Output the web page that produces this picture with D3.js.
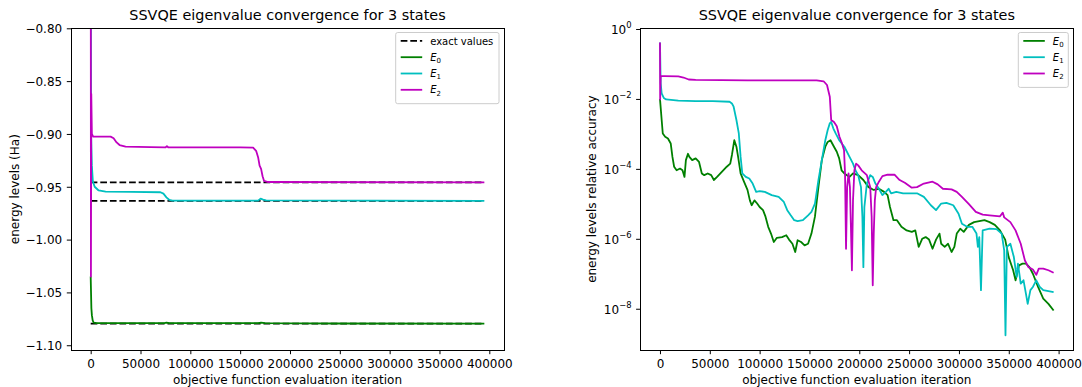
<!DOCTYPE html>
<html>
<head>
<meta charset="utf-8">
<script src="https://cdn.jsdelivr.net/npm/d3@7"></script>
<style>
  body { margin: 0; background: #fff; }
  svg { display: block; font-family: 'DejaVu Sans', sans-serif; }
</style>
</head>
<body>
<svg id="chart" width="1082" height="387"></svg>
<script>
// ---- data ----
const title = 'SSVQE eigenvalue convergence for 3 states';
const xLabel = 'objective function evaluation iteration';
const leftYLabel = 'energy levels (Ha)';
const rightYLabel = 'energy levels relative accuracy';

const xTicks = [0, 50000, 100000, 150000, 200000, 250000, 300000, 350000, 400000];
const energyTicks = [-1.10, -1.05, -1.00, -0.95, -0.90, -0.85, -0.80];
const accuracyTicks = [1, 1e-2, 1e-4, 1e-6, 1e-8];
const accuracyTickExponents = ['0', '\u22122', '\u22124', '\u22126', '\u22128'];

const lastIteration = 395000;
const exactValues = [-1.0795, -0.9633, -0.9458];
const stateNames = ['0', '1', '2'];
const stateColors = ['#008000', '#00bfbf', '#bf00bf'];

// left panel: energies (Ha) vs iteration
const energyE0 = [[0, -1.035], [700, -1.065], [1200, -1.0715], [2000, -1.0765], [3000, -1.0785], [6000, -1.0791],
  [40000, -1.0791], [74000, -1.0790], [76000, -1.0786], [79000, -1.0791], [168000, -1.0791], [171000, -1.0786],
  [175000, -1.0791], [250000, -1.0794], [395000, -1.0795]];
const energyE1 = [[0, -0.58], [400, -0.90], [1200, -0.930], [2200, -0.945], [4000, -0.950], [8000, -0.9535],
  [15000, -0.9546], [40000, -0.9548], [70000, -0.9552], [73000, -0.9565], [76000, -0.9600], [79000, -0.9625],
  [82000, -0.9632], [168000, -0.9631], [170500, -0.9612], [173000, -0.9622], [176000, -0.9629], [395000, -0.9633]];
const energyE2 = [[0, -0.55], [250, -1.035], [600, -0.862], [1200, -0.900], [2500, -0.9025], [20000, -0.9025],
  [23000, -0.904], [26000, -0.908], [29000, -0.9105], [35000, -0.912], [60000, -0.9125], [75000, -0.9128],
  [76500, -0.9115], [78000, -0.9128], [150000, -0.9128], [163000, -0.9130], [166000, -0.916], [168000, -0.922],
  [169500, -0.930], [171000, -0.933], [172500, -0.940], [174000, -0.9445], [178000, -0.9455], [395000, -0.9458]];

// right panel: relative accuracy vs iteration
const accuracyE0 = [[0, 1.0e-2], [1700, 2.5e-3], [2800, 1.03e-3], [5200, 8.3e-4], [8000, 7.4e-4], [10800, 5.3e-4],
  [12500, 2.2e-4], [14200, 1.15e-4], [16700, 9.1e-5], [20100, 1.02e-4], [22600, 9.1e-5], [24600, 5.9e-5],
  [26000, 1.78e-4], [28100, 2.7e-4], [29500, 2.2e-4], [32300, 1.78e-4], [35800, 2.0e-4], [39200, 1.58e-4],
  [42000, 7.4e-5], [44400, 6.6e-5], [47900, 7.4e-5], [51400, 6.6e-5], [54100, 4.8e-5], [57300, 5.9e-5],
  [61800, 8.1e-5], [67000, 1.15e-4], [70500, 1.41e-4], [72200, 2.5e-4], [74600, 6.6e-4], [76700, 4.3e-4],
  [78400, 2.2e-4], [80900, 7.4e-5], [84300, 4.3e-5], [87800, 2.5e-5], [90200, 1.26e-5], [92000, 9.1e-6],
  [94800, 1.26e-5], [97500, 1.02e-5], [100000, 8.1e-6], [103400, 6.6e-6], [105900, 4.3e-6], [108600, 2.2e-6],
  [111400, 1.41e-6], [114200, 8.1e-7], [117300, 1.07e-6], [122500, 1.12e-6], [126700, 1.26e-6], [129500, 9.5e-7],
  [132900, 7.2e-7], [135700, 4.2e-7], [138100, 9.1e-7], [141600, 8.1e-7], [145100, 6.5e-7], [148600, 7.2e-7],
  [152000, 1.41e-6], [155500, 4.3e-6], [159000, 3.0e-5], [162400, 1.78e-4], [165900, 4.3e-4], [168300, 5.9e-4],
  [171100, 6.6e-4], [174600, 4.3e-4], [177400, 3.1e-4], [179800, 2.0e-4], [182200, 9.1e-5], [185000, 7.4e-5],
  [190200, 5.9e-5], [193700, 7.4e-5], [198900, 6.6e-5], [204100, 4.8e-5], [209300, 3.0e-5], [214500, 2.5e-5],
  [219700, 2.7e-5], [224900, 2.2e-5], [228400, 1.78e-5], [230800, 8.1e-6], [234300, 3.4e-6], [237800, 3.4e-6],
  [242300, 2.2e-6], [247500, 1.74e-6], [252700, 1.58e-6], [256200, 1.74e-6], [259600, 5.9e-7], [263100, 1.0e-6],
  [266600, 1.12e-6], [270000, 9.5e-7], [273500, 5.2e-7], [277000, 9.5e-7], [280500, 1.41e-6], [282200, 7.2e-7],
  [285700, 5.9e-7], [289100, 7.2e-7], [292600, 4.2e-7], [295400, 5.9e-7], [297800, 1.41e-6], [301300, 1.95e-6],
  [304800, 1.58e-6], [310000, 2.5e-6], [315200, 3.0e-6], [320400, 3.2e-6], [325600, 3.4e-6], [330800, 3.0e-6],
  [336000, 2.5e-6], [341200, 1.74e-6], [346400, 9.5e-7], [349900, 3.0e-7], [354400, 1.26e-7], [356800, 6.5e-8],
  [360300, 1.74e-7], [363800, 1.95e-7], [367200, 1.95e-7], [370700, 1.55e-7], [374200, 1.0e-7], [379400, 4.2e-8],
  [384600, 1.95e-8], [389800, 1.38e-8], [395000, 8.9e-9]];
const accuracyE1 = [[0, 0.41], [700, 2.8e-2], [1700, 1.45e-2], [3800, 1.07e-2], [6200, 9.7e-3], [18400, 8.9e-3],
  [35800, 8.7e-3], [53100, 8.7e-3], [69800, 8.3e-3], [72200, 7.4e-3], [73900, 6.0e-3], [76700, 2.5e-3],
  [79100, 1.03e-3], [80900, 2.2e-4], [82600, 7.4e-5], [86100, 5.9e-5], [89600, 5.3e-5], [93000, 3.8e-5],
  [96500, 2.2e-5], [100000, 2.3e-5], [105200, 2.2e-5], [112100, 1.78e-5], [119100, 1.58e-5], [124300, 1.13e-5],
  [127700, 6.6e-6], [131200, 4.7e-6], [134700, 3.4e-6], [138100, 3.2e-6], [143400, 3.4e-6], [148600, 4.7e-6],
  [152000, 5.9e-6], [155500, 1.02e-5], [159000, 4.8e-5], [162400, 1.78e-4], [165900, 6.6e-4], [168300, 1.29e-3],
  [170400, 2.0e-3], [171800, 2.2e-3], [173900, 1.45e-3], [176300, 1.03e-3], [179800, 6.6e-4], [185000, 4.3e-4],
  [190200, 2.2e-4], [193700, 1.41e-4], [196100, 9.1e-5], [198900, 6.6e-5], [201700, 3.0e-5], [203100, 4.3e-6],
  [204100, 1.55e-7], [205100, 8.1e-6], [207600, 3.8e-5], [211000, 6.6e-5], [213500, 5.9e-5], [216200, 3.8e-5],
  [219700, 2.7e-5], [223200, 1.78e-5], [226700, 2.2e-5], [229400, 2.7e-5], [231900, 2.0e-5], [237100, 2.2e-5],
  [244000, 2.0e-5], [251000, 2.0e-5], [257900, 2.0e-5], [264800, 1.58e-5], [271800, 9.1e-6], [277000, 6.6e-6],
  [282200, 1.02e-5], [287400, 1.07e-5], [294300, 9.1e-6], [299600, 5.2e-6], [303000, 2.7e-6], [308200, 2.2e-6],
  [313400, 2.2e-6], [317600, 1.41e-6], [319000, 5.9e-7], [320400, 1.12e-6], [322100, 3.4e-8], [323800, 1.74e-6],
  [330800, 1.95e-6], [337700, 1.9e-6], [342900, 1.41e-6], [345400, 4.7e-7], [346700, 1.74e-9], [348100, 5.9e-7],
  [351600, 7.2e-7], [355100, 3.0e-7], [357900, 8.1e-8], [359200, 1.95e-7], [362000, 5.2e-8], [364800, 6.5e-8],
  [367200, 2.7e-8], [369000, 1.38e-8], [371700, 3.4e-8], [374200, 4.2e-8], [377600, 6.5e-8], [381100, 4.2e-8],
  [384600, 3.4e-8], [389800, 3.2e-8], [395000, 3.0e-8]];
const accuracyE2 = [[0, 0.41], [170, 9.7e-3], [700, 4.5e-2], [4500, 4.5e-2], [18400, 4.4e-2], [23600, 4.1e-2],
  [28800, 3.6e-2], [35800, 3.5e-2], [87800, 3.4e-2], [122500, 3.4e-2], [157200, 3.4e-2], [164200, 3.2e-2],
  [167600, 2.5e-2], [170400, 1.15e-2], [171800, 2.5e-3], [174600, 2.2e-3], [177400, 1.66e-3], [180100, 8.3e-4],
  [182900, 5.1e-4], [184700, 3.4e-4], [185700, 7.4e-5], [186700, 5.2e-7], [187800, 3.0e-5], [189200, 7.4e-5],
  [190600, 3.0e-5], [191600, 2.2e-6], [192600, 1.26e-7], [193700, 1.26e-5], [195100, 9.1e-5], [196800, 1.41e-4],
  [198900, 1.26e-4], [202400, 9.1e-5], [207600, 6.6e-5], [211000, 3.0e-5], [212400, 4.3e-6], [213500, 4.7e-8],
  [214500, 1.41e-6], [215600, 1.26e-5], [216900, 3.0e-5], [219700, 4.3e-5], [223200, 6.2e-5], [228400, 6.8e-5],
  [235300, 6.8e-5], [240500, 4.8e-5], [245700, 4.0e-5], [252700, 2.9e-5], [257900, 3.0e-5], [264800, 3.8e-5],
  [273500, 4.3e-5], [278700, 3.6e-5], [283900, 2.7e-5], [292600, 2.6e-5], [297800, 2.2e-5], [303000, 1.58e-5],
  [310000, 9.8e-6], [316900, 5.9e-6], [323800, 4.9e-6], [330800, 4.7e-6], [341200, 4.4e-6], [344000, 5.6e-6],
  [345400, 4.1e-6], [351600, 3.0e-6], [356800, 1.74e-6], [362000, 7.2e-7], [366200, 2.4e-7], [369700, 1.55e-7],
  [374200, 1.32e-7], [377600, 9.3e-8], [380100, 1.41e-7], [384600, 1.41e-7], [389800, 1.26e-7], [395000, 1.07e-7]];

const energySeries = [energyE0, energyE1, energyE2];
const accuracySeries = [accuracyE0, accuracyE1, accuracyE2];

// ---- layout ----
const plotTop = 28.3;
const plotBottom = 350;
const lineWidth = 1.8;
const svg = d3.select('#chart');

const xScale = (x0, x1) => d3.scaleLinear()
  .domain([-0.05 * lastIteration, 1.05 * lastIteration])
  .range([x0, x1]);

const xLeft = xScale(71, 504);
const xRight = xScale(640.3, 1073.3);
const yEnergy = d3.scaleLinear().domain([-1.1045, -0.8]).range([plotBottom, plotTop]);
const yAccuracy = d3.scaleLog().domain([Math.pow(10, -9.18), Math.pow(10, 0.02)]).range([plotBottom, plotTop]);

const mathLabel = (sel, base, sub, size) => {
  sel.append('tspan').attr('font-style', 'italic').text(base);
  sel.append('tspan').attr('font-size', size * 0.7).attr('dy', size * 0.22).text(sub);
};

const panel = (id, x, y, series, yTickValues, yFormat, ylabel, ylabelX, legendBox, withExact) => {
  const [x0, x1] = x.range();
  const g = svg.append('g');

  svg.append('clipPath').attr('id', `clip-${id}`)
    .append('rect')
    .attr('x', x0).attr('y', plotTop)
    .attr('width', x1 - x0).attr('height', plotBottom - plotTop);

  const plot = g.append('g').attr('clip-path', `url(#clip-${id})`);
  const line = d3.line().x(d => x(d[0])).y(d => y(d[1]));

  if (withExact) {
    plot.selectAll('.exact')
      .data(exactValues)
      .join('path')
      .attr('class', 'exact')
      .attr('d', v => line([[0, v], [lastIteration, v]]))
      .attr('fill', 'none')
      .attr('stroke', '#000')
      .attr('stroke-width', lineWidth)
      .attr('stroke-dasharray', '6.7,2.9');
  }

  plot.selectAll('.state')
    .data(series)
    .join('path')
    .attr('class', 'state')
    .attr('d', line)
    .attr('fill', 'none')
    .attr('stroke', (d, i) => stateColors[i])
    .attr('stroke-width', lineWidth)
    .attr('stroke-linejoin', 'round');

  // axes
  const xAxis = g.append('g')
    .attr('transform', `translate(0,${plotBottom})`)
    .call(d3.axisBottom(x).tickValues(xTicks).tickSize(4.2).tickPadding(5.6).tickFormat(d3.format('d')));
  xAxis.select('.domain').remove();
  xAxis.selectAll('text').attr('font-size', 12).attr('font-family', 'DejaVu Sans').attr('fill', '#000');
  xAxis.selectAll('line').attr('stroke', '#000').attr('stroke-width', 1);

  const yAxis = g.append('g')
    .attr('transform', `translate(${x0},0)`)
    .call(d3.axisLeft(y).tickValues(yTickValues).tickSize(4.2).tickPadding(4.6).tickFormat(() => ''));
  yAxis.select('.domain').remove();
  yAxis.selectAll('line').attr('stroke', '#000').attr('stroke-width', 1);
  yAxis.selectAll('.tick text')
    .attr('font-size', 12).attr('font-family', 'DejaVu Sans').attr('fill', '#000')
    .each(function (d, i) { yFormat(d3.select(this), d, i); });

  g.append('rect')
    .attr('x', x0).attr('y', plotTop)
    .attr('width', x1 - x0).attr('height', plotBottom - plotTop)
    .attr('fill', 'none').attr('stroke', '#000').attr('stroke-width', 1)
    .attr('shape-rendering', 'crispEdges');

  g.append('text')
    .attr('x', (x0 + x1) / 2).attr('y', 20)
    .attr('text-anchor', 'middle')
    .attr('font-size', 14.4)
    .text(title);

  g.append('text')
    .attr('x', (x0 + x1) / 2).attr('y', 383.5)
    .attr('text-anchor', 'middle')
    .attr('font-size', 12)
    .text(xLabel);

  g.append('text')
    .attr('transform', `translate(${ylabelX},${(plotTop + plotBottom) / 2}) rotate(-90)`)
    .attr('text-anchor', 'middle')
    .attr('font-size', 12)
    .text(ylabel);

  // legend
  const entries = (withExact ? [{ dash: true }] : []).concat(stateNames.map((s, i) => ({ sub: s, color: stateColors[i] })));
  const lg = g.append('g');
  const boxH = 6 + entries.length * 16.3;
  lg.append('rect')
    .attr('x', legendBox.x).attr('y', legendBox.y)
    .attr('width', legendBox.w).attr('height', boxH)
    .attr('rx', 2)
    .attr('fill', '#fff').attr('fill-opacity', 0.8)
    .attr('stroke', '#cccccc').attr('stroke-width', 1);
  entries.forEach((e, i) => {
    const cy = legendBox.y + 8.4 + i * 16.3;
    lg.append('line')
      .attr('x1', legendBox.x + 5).attr('x2', legendBox.x + 26.5)
      .attr('y1', cy).attr('y2', cy)
      .attr('stroke', e.dash ? '#000' : e.color)
      .attr('stroke-width', lineWidth)
      .attr('stroke-dasharray', e.dash ? '6.7,2.9' : null);
    const t = lg.append('text')
      .attr('x', legendBox.x + 34.5).attr('y', cy + 3.6)
      .attr('font-size', 10);
    if (e.dash) t.text('exact values');
    else mathLabel(t, 'E', e.sub, 10);
  });
};

const energyFormat = (t, d) => t.text(d3.format('.2f')(d).replace('-', '\u2212')).attr('dy', '0.36em');
const accuracyFormat = (t, d, i) => {
  t.text('').attr('dy', '0.36em');
  t.append('tspan').text('10');
  t.append('tspan').attr('font-size', 8.4).attr('dy', -5.6).text(accuracyTickExponents[i]);
};

panel('left', xLeft, yEnergy, energySeries, energyTicks, energyFormat, leftYLabel, 18.5,
  { x: 395.7, y: 32.5, w: 103.3 }, true);
panel('right', xRight, yAccuracy, accuracySeries, accuracyTicks, accuracyFormat, rightYLabel, 595.5,
  { x: 1018.3, y: 32.5, w: 50 }, false);
</script>
</body>
</html>
